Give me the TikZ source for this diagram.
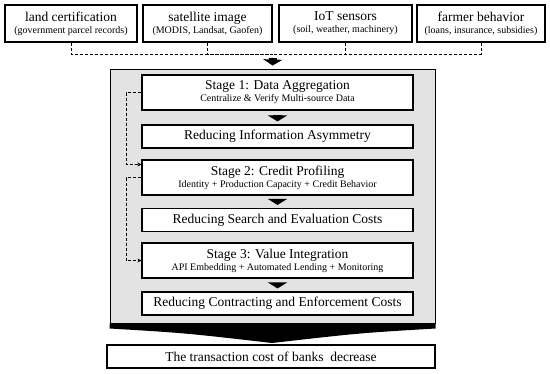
\documentclass[tikz,border=0pt]{standalone}
\usepackage{fontspec}
\setmainfont{Liberation Serif}
\usetikzlibrary{arrows.meta}
\newcommand\dgtitle{\fontsize{13.5}{15}\selectfont}
\newcommand\dgsub{\fontsize{10}{12}\selectfont}
\begin{document}
\begin{tikzpicture}[x=1pt,y=-1pt,
  srcbox/.style={draw, line width=1.1pt, fill=white, inner sep=0pt, align=center,
    minimum height=37pt, font=\dgsub},
  stagebox/.style={draw, line width=1.1pt, fill=white, inner sep=0pt, align=center,
    minimum width=271pt, minimum height=35pt, font=\dgsub},
  redbox/.style={draw, line width=1.1pt, fill=white, inner sep=0pt, align=center,
    minimum width=271pt, minimum height=23pt, font=\dgtitle},
  outerbox/.style={draw, line width=1pt, fill=black!11, inner sep=0pt},
  feed/.style={densely dashed, line width=0.8pt},
  feedarrow/.style={densely dashed, line width=0.8pt, -{Stealth[length=4pt,width=4pt]}},
  fatarrow/.style={line width=9pt, -{Triangle[length=6pt,width=19pt]}, shorten >=3pt}
]
\useasboundingbox (0,0) rectangle (550,373);

% sources
\node[srcbox, minimum width=132pt] (src1) at (71,23.5) {{\dgtitle land certification}\\(government parcel records)};
\node[srcbox, minimum width=129pt] (src2) at (207.5,23.5) {{\dgtitle satellite image}\\(MODIS, Landsat, Gaofen)};
\node[srcbox, minimum width=133pt] (src3) at (345.5,23.5) {{\dgtitle IoT sensors}\\(soil, weather, machinery)};
\node[srcbox, minimum width=128pt] (src4) at (481,23.5) {{\dgtitle farmer behavior}\\(loans, insurance, subsidies)};

\coordinate (join) at (273,54);
\draw[feed] (src1.south) |- (join);
\draw[feed] (src2.south) |- (join);
\draw[feed] (src3.south) |- (join);
\draw[feed] (src4.south) |- (join);

% outer box
\node[outerbox, minimum width=325pt, minimum height=254pt] (outer) at (272.5,196) {};
\fill (outer.south west) -- (outer.south east) -- ++(0,5)
  .. controls (360,333) .. (272,343)
  .. controls (185,333) .. ([yshift=-5pt]outer.south west) -- cycle;

\draw[fatarrow, line width=8pt, shorten <=4pt] (join) -- (outer.north);

% stages
\node[stagebox] (s1) at (277.5,92.5) {{\dgtitle Stage 1: Data Aggregation}\\Centralize \& Verify Multi-source Data};
\node[redbox] (r1) at (277.5,136.5) {Reducing Information Asymmetry};
\node[stagebox] (s2) at (277.5,177.5) {{\dgtitle Stage 2: Credit Profiling}\\Identity + Production Capacity + Credit Behavior};
\node[redbox] (r2) at (277.5,220) {Reducing Search and Evaluation Costs};
\node[stagebox] (s3) at (277.5,260.5) {{\dgtitle Stage 3: Value Integration}\\API Embedding + Automated Lending + Monitoring};
\node[redbox] (r3) at (277.5,303.5) {Reducing Contracting and Enforcement Costs};

\draw[fatarrow, shorten <=4pt] (s1.south) -- (r1.north);
\draw[fatarrow, shorten <=4pt] (s2.south) -- (r2.north);
\draw[fatarrow, shorten <=4pt] (s3.south) -- (r3.north);

\draw[feedarrow] (s1.west) -- ++(-15,0) |- ([yshift=-5pt]s2.north west);
\draw[feedarrow] (s2.west) -- ++(-15,0) |- (s3.west);

% result
\node[redbox, minimum width=328pt] (res) at (271,356.5) {The transaction cost of banks~ decrease};
\end{tikzpicture}
\end{document}
